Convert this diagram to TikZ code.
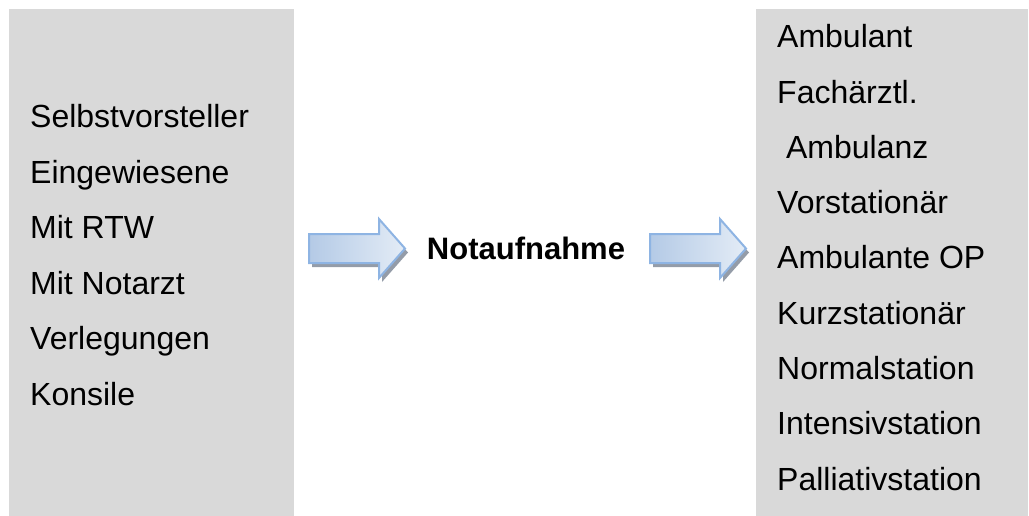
\documentclass[tikz,border=0pt]{standalone}
\usepackage{fontspec}
\setmainfont{Liberation Sans}
\definecolor{panelgray}{HTML}{D9D9D9}
\definecolor{arrowedge}{HTML}{8EB4E3}
\definecolor{arrowdark}{HTML}{B4CAE6}
\definecolor{arrowlight}{HTML}{E4ECF6}
\definecolor{arrowshadow}{HTML}{949CA8}
\tikzset{
  panel/.style={fill=panelgray, draw=none, inner sep=0pt, anchor=north west},
  item/.style={anchor=base west, inner sep=0pt, font=\fontsize{32}{38}\selectfont},
  hub/.style={anchor=base, inner sep=0pt, font=\fontsize{31}{37}\selectfont\bfseries},
  pics/fatarrow/.style={code={
    % soft drop shadow
    \fill[arrowshadow] (3,-10.5) -- (73,-10.5) -- (73,-25.5) -- (99,4) -- (73,33.5)
      -- (73,18.5) -- (3,18.5) -- cycle;
    % arrow body
    \path[draw=arrowedge, line width=2pt, line join=miter,
          left color=arrowdark, right color=arrowlight]
      (0,-14.5) -- (70,-14.5) -- (70,-29.5) -- (96,0) -- (70,29.5)
      -- (70,14.5) -- (0,14.5) -- cycle;
  }}
}
\begin{document}
\begin{tikzpicture}[x=1pt,y=-1pt]
\useasboundingbox (0,0) rectangle (1029,516);

% source panel and destination panel
\node[panel, minimum width=285pt, minimum height=507pt] (src) at (9,9) {};
\node[panel, minimum width=272pt, minimum height=507pt] (dst) at (756,9) {};

% incoming patient groups
\node[item] (s1) at (30,128.0) {Selbstvorsteller};
\node[item] (s2) at (30,183.4) {Eingewiesene};
\node[item] (s3) at (30,238.8) {Mit RTW};
\node[item] (s4) at (30,294.2) {Mit Notarzt};
\node[item] (s5) at (30,349.6) {Verlegungen};
\node[item] (s6) at (30,405.0) {Konsile};

% central unit
\node[hub] (na) at (526,259) {Notaufnahme};

% outgoing dispositions
\node[item] (d1) at (777,48.0)  {Ambulant};
\node[item] (d2) at (777,103.25) {Fachärztl.};
\node[item] (d3) at (777,158.5) {\ Ambulanz};
\node[item] (d4) at (777,213.75) {Vorstationär};
\node[item] (d5) at (777,269.0) {Ambulante OP};
\node[item] (d6) at (777,324.25) {Kurzstationär};
\node[item] (d7) at (777,379.5) {Normalstation};
\node[item] (d8) at (777,434.75) {Intensivstation};
\node[item] (d9) at (777,490.0) {Palliativstation};

% block arrows between the stages
\coordinate (a1) at (309,248.5);
\coordinate (a2) at (650,248.5);
\pic at (a1) {fatarrow};
\pic at (a2) {fatarrow};
\end{tikzpicture}
\end{document}
